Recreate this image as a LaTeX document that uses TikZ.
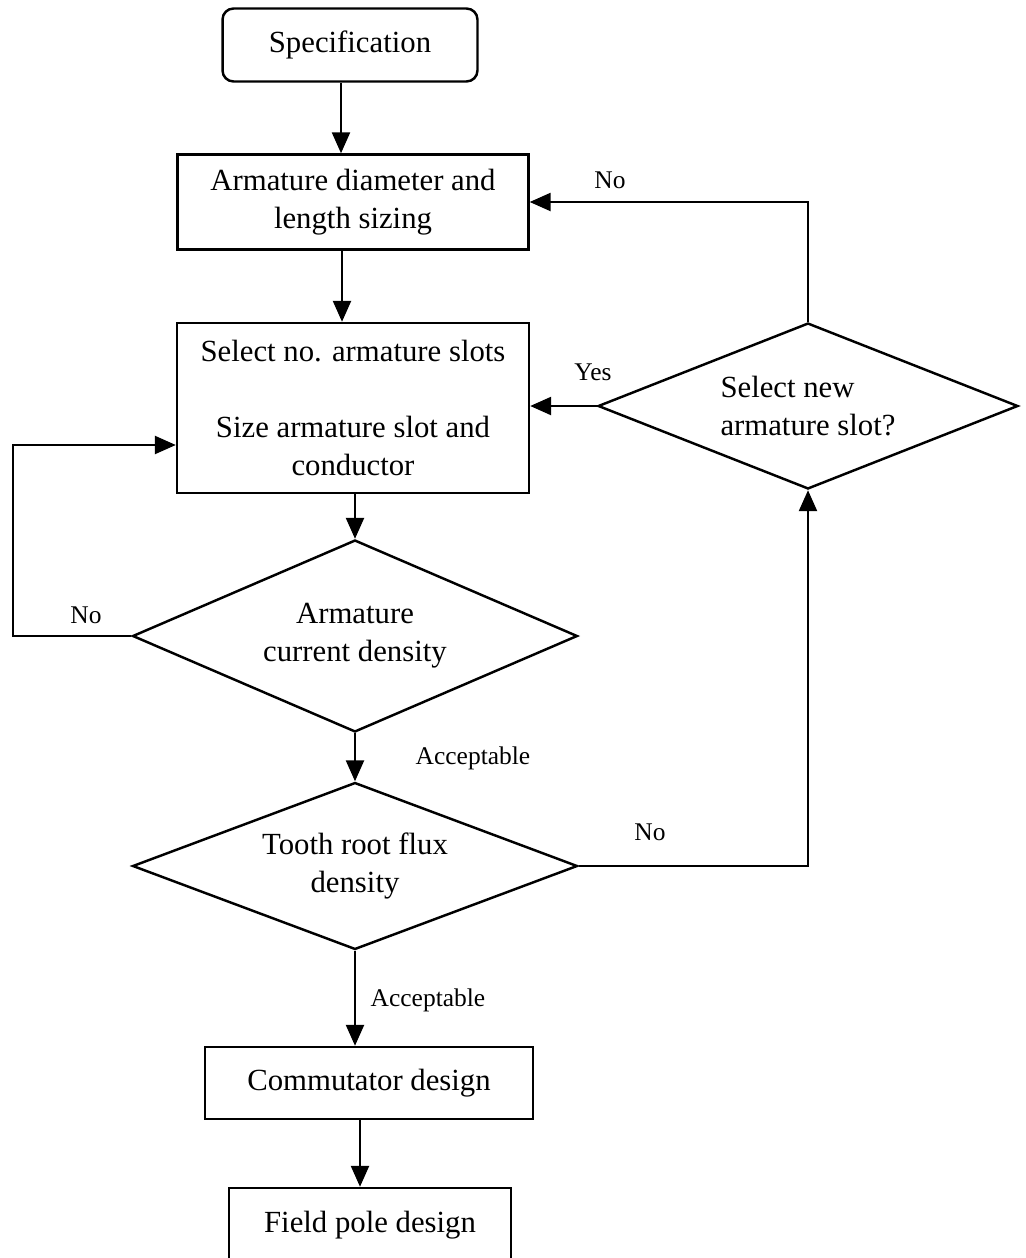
\documentclass[tikz,border=0pt]{standalone}
\usepackage{fontspec}
\setmainfont{Liberation Serif}
\usetikzlibrary{shapes.geometric,arrows.meta}

\tikzset{
  base/.style={draw,line width=1.4pt,inner sep=0pt,align=center,font=\fontsize{17.5}{21.5}\selectfont},
  box/.style={base,rectangle},
  decide/.style={base,diamond,aspect=2.3},
  arr/.style={line width=1.4pt,-{Triangle[length=0.42cm,width=0.36cm]}},
  lbl/.style={font=\fontsize{14.5}{17}\selectfont,inner sep=0pt}
}

\begin{document}
\begin{tikzpicture}[x=0.02cm,y=-0.02cm]
  \useasboundingbox (0,0) rectangle (1026,1258);
  \clip (0,0) rectangle (1026,1258);

  \node[box,rounded corners=0.22cm,minimum width=5.1cm,minimum height=1.46cm] (spec) at (350,45) {Specification};
  \node[box,minimum width=7.02cm,minimum height=1.9cm] (arm) at (353,202) {Armature diameter and\\length sizing};
  \node[box,minimum width=7.04cm,minimum height=3.4cm] (sel) at (353,408) {Select no. armature slots\\[21.5pt]Size armature slot and\\conductor};
  \node[decide,minimum width=8.4cm,minimum height=3.32cm,align=left] (newslot) at (808,406) {Select new\\armature slot?};
  \node[decide,minimum width=8.9cm,minimum height=3.84cm] (curr) at (355,636) {Armature\\current density};
  \node[decide,minimum width=8.9cm,minimum height=3.34cm] (tooth) at (355,866) {Tooth root flux\\density};
  \node[box,minimum width=6.56cm,minimum height=1.44cm] (comm) at (369,1083) {Commutator design};
  \node[box,minimum width=5.64cm,minimum height=1.48cm] (field) at (370,1225) {Field pole design};

  % main line
  \draw[arr] ([xshift=-0.18cm]spec.south) -- ([xshift=-0.18cm]spec.south |- arm.north);
  \draw[arr] ([xshift=-0.22cm]arm.south) -- ([xshift=-0.22cm]arm.south |- sel.north);
  \draw[arr] (sel.south -| curr.north) -- (curr.north);
  \draw[arr] (curr.south) -- (tooth.north);
  \draw[arr] (tooth.south) -- (tooth.south |- comm.north);
  \draw[arr] ([xshift=-0.18cm]comm.south) -- ([xshift=-0.18cm]comm.south |- field.north);

  % loops
  \coordinate (back) at (13,540);
  \draw[arr] (curr.west) -| (back) |- ([yshift=-0.74cm]sel.west);
  \draw[arr] (tooth.east) -| (newslot.south);
  \draw[arr] (newslot.west) -- (newslot.west -| sel.east);
  \draw[arr] (newslot.north) |- (arm.east);

  \node[lbl] (no1) at (86,615) {No};
  \node[lbl] (no2) at (610,180) {No};
  \node[lbl] (yes) at (593,372) {Yes};
  \node[lbl] (no3) at (650,832) {No};
  \node[lbl] (ok1) at (473,758) {Acceptable};
  \node[lbl] (ok2) at (428,1000) {Acceptable};
\end{tikzpicture}
\end{document}
